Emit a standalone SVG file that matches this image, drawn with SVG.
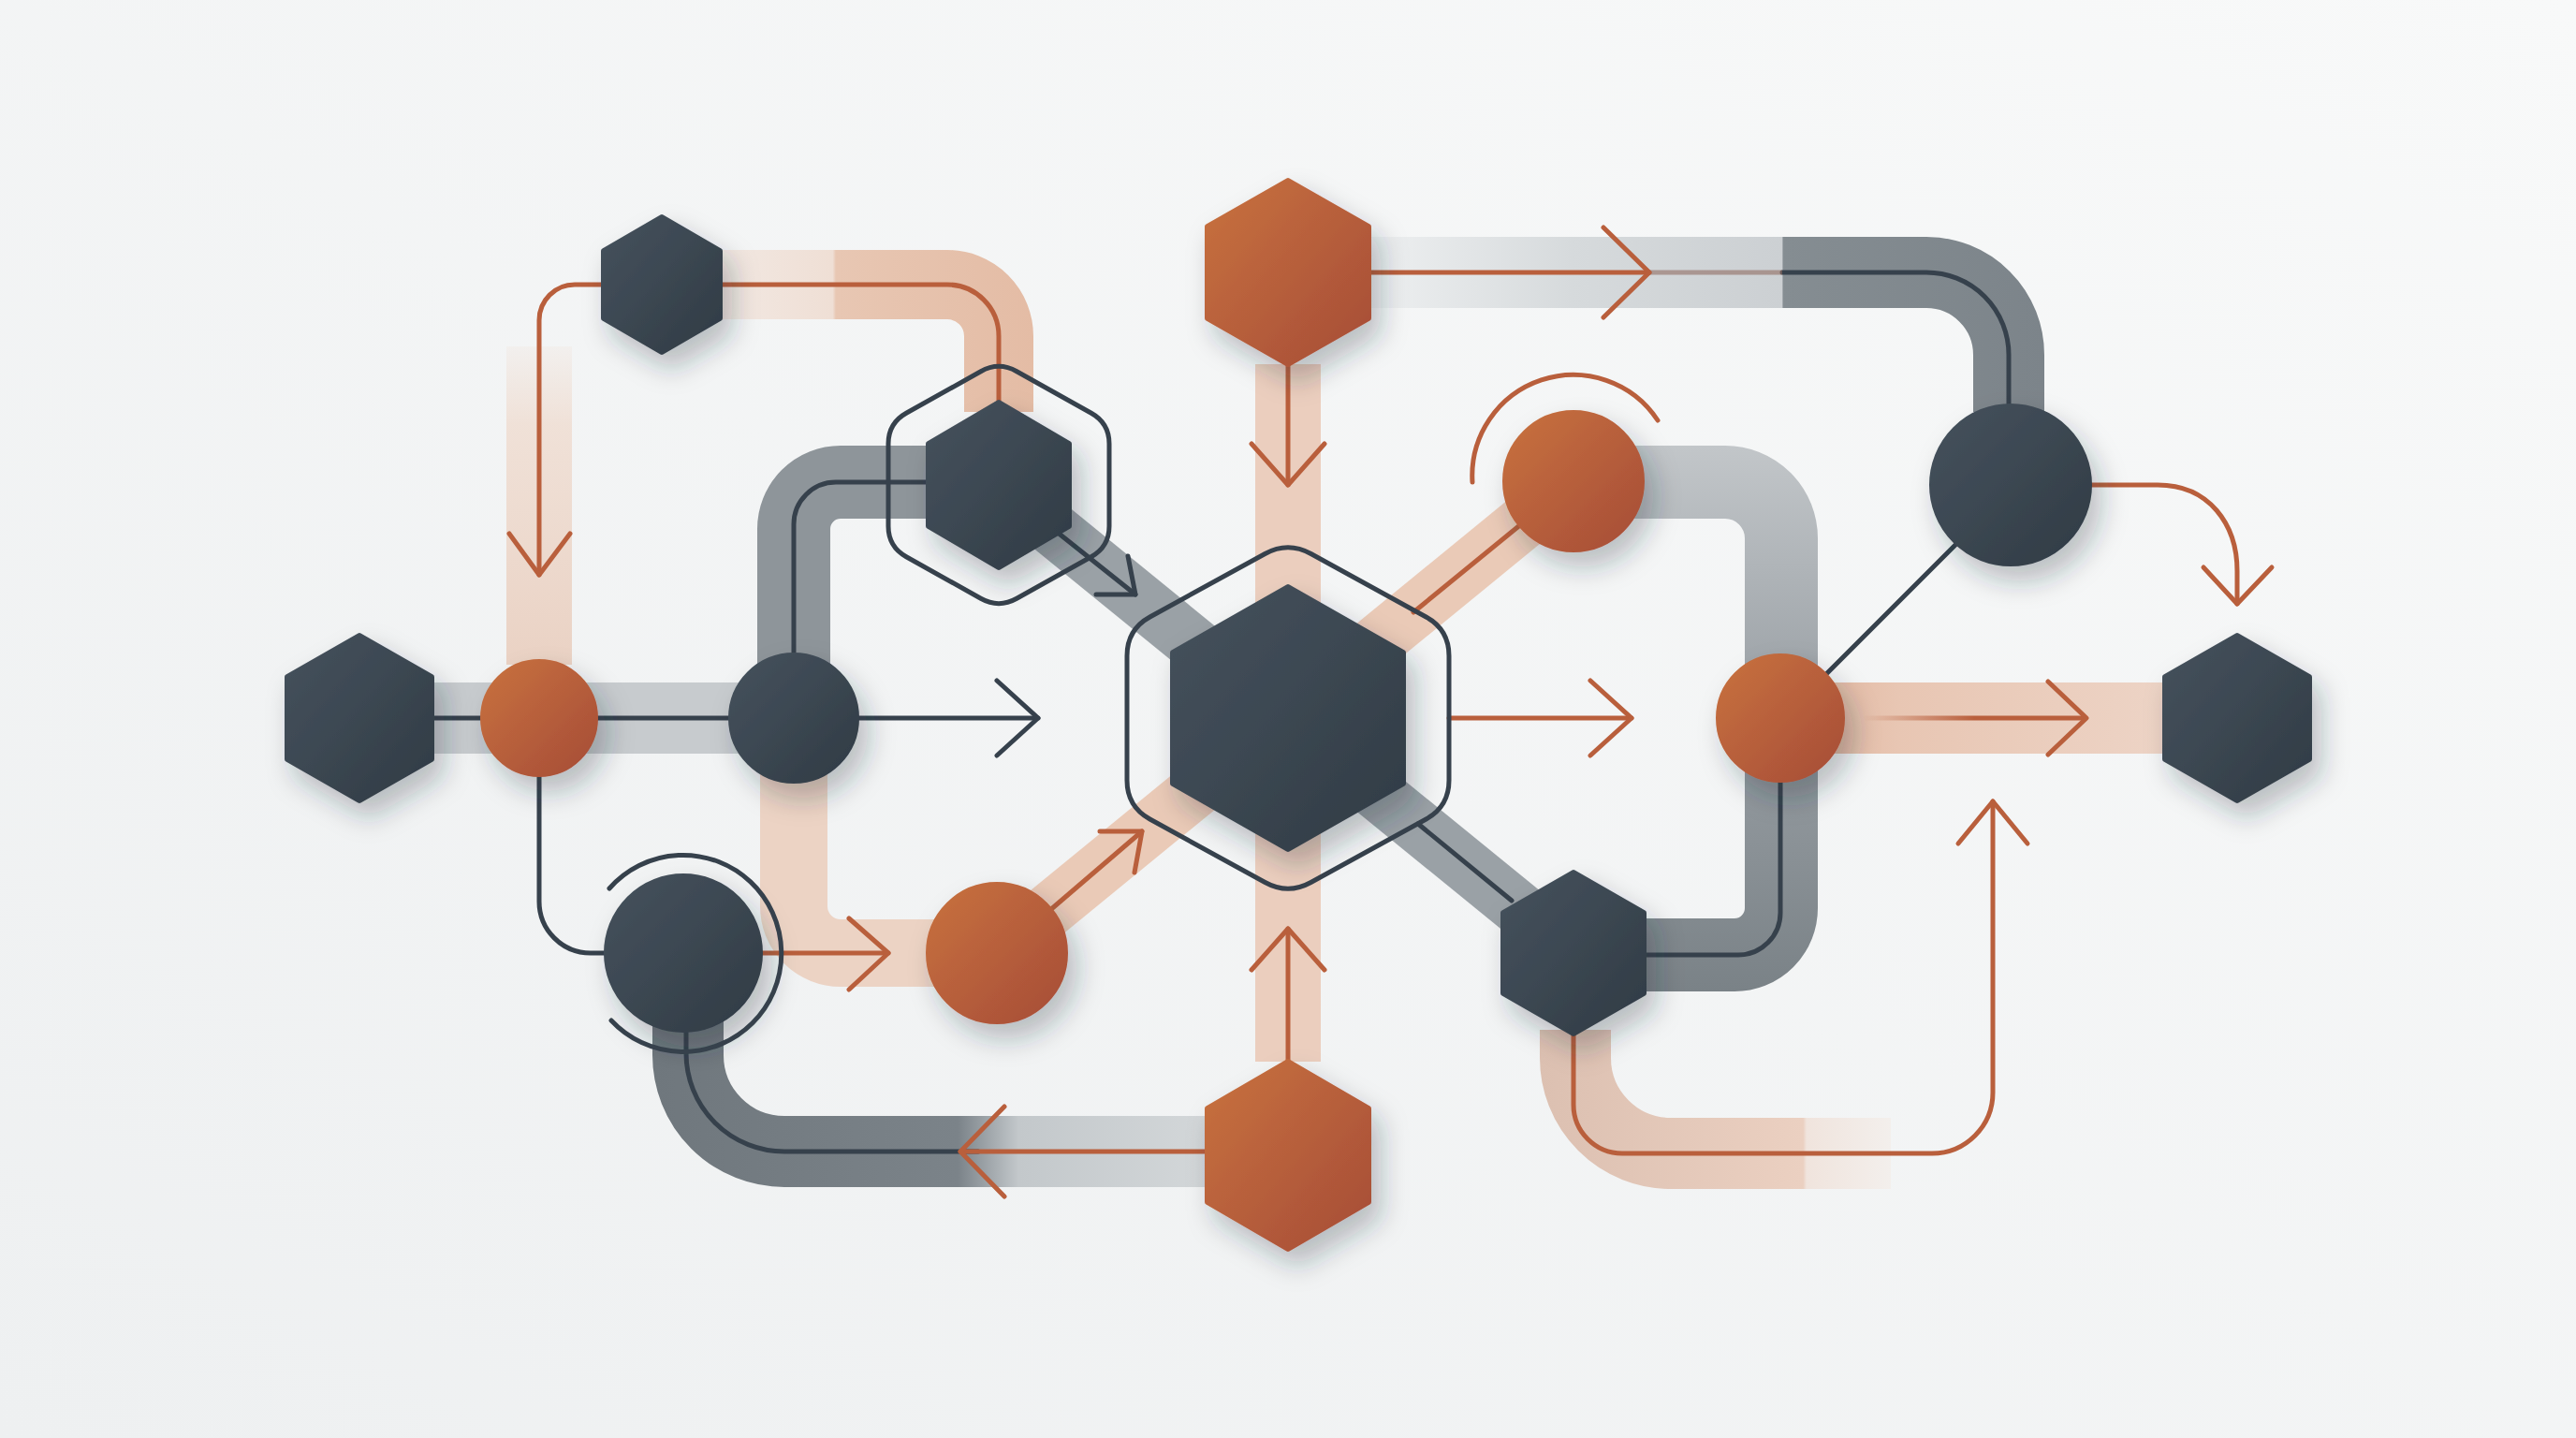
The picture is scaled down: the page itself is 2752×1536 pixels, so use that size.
<svg xmlns="http://www.w3.org/2000/svg" width="2752" height="1536" viewBox="0 0 2752 1536">
<defs>
<linearGradient id="bg" x1="1" y1="0" x2="0" y2="1"><stop offset="0" stop-color="#f8f9f9"/><stop offset="1" stop-color="#eef0f1"/></linearGradient>
<linearGradient id="gDark" x1="0" y1="0" x2="1" y2="1"><stop offset="0" stop-color="#46525d"/><stop offset="1" stop-color="#303b45"/></linearGradient>
<linearGradient id="gOr" x1="0" y1="0" x2="1" y2="1"><stop offset="0" stop-color="#c8723f"/><stop offset="1" stop-color="#a64c37"/></linearGradient>
<linearGradient id="bandD" gradientUnits="userSpaceOnUse" x1="0" y1="370" x2="0" y2="707"><stop offset="0" stop-color="#efdcd0" stop-opacity="0.2"/><stop offset="0.25" stop-color="#efdcd0" stop-opacity="0.8"/><stop offset="1" stop-color="#ead2c4"/></linearGradient>
<linearGradient id="bandE" gradientUnits="userSpaceOnUse" x1="769" y1="0" x2="1104" y2="0"><stop offset="0" stop-color="#f2e8e2"/><stop offset="0.36" stop-color="#efdfd5"/><stop offset="0.37" stop-color="#e8c7b3"/><stop offset="1" stop-color="#e4bca5"/></linearGradient>
<linearGradient id="bandI" gradientUnits="userSpaceOnUse" x1="0" y1="477" x2="0" y2="1058"><stop offset="0" stop-color="#c2c6c9"/><stop offset="0.45" stop-color="#9ca2a7"/><stop offset="1" stop-color="#7a8287"/></linearGradient>
<linearGradient id="bandJ" gradientUnits="userSpaceOnUse" x1="1462" y1="0" x2="2186" y2="0"><stop offset="0" stop-color="#eef0f1"/><stop offset="0.3" stop-color="#d6dadc"/><stop offset="0.61" stop-color="#ccd0d3"/><stop offset="0.612" stop-color="#858d92"/><stop offset="1" stop-color="#7c848a"/></linearGradient>
<linearGradient id="bandK" gradientUnits="userSpaceOnUse" x1="1902" y1="0" x2="2320" y2="0"><stop offset="0" stop-color="#e0b29a"/><stop offset="0.3" stop-color="#e8c6b3"/><stop offset="1" stop-color="#edd4c6"/></linearGradient>
<linearGradient id="bandL" gradientUnits="userSpaceOnUse" x1="1645" y1="0" x2="2020" y2="0"><stop offset="0" stop-color="#dcc0b1"/><stop offset="0.75" stop-color="#ebd0c1"/><stop offset="0.76" stop-color="#f0e4dd"/><stop offset="1" stop-color="#f3efec"/></linearGradient>
<linearGradient id="bandM" gradientUnits="userSpaceOnUse" x1="697" y1="0" x2="1290" y2="0"><stop offset="0" stop-color="#6f777d"/><stop offset="0.55" stop-color="#7b8389"/><stop offset="0.66" stop-color="#c3c8cb"/><stop offset="1" stop-color="#d3d7d9"/></linearGradient>
<linearGradient id="lineK" gradientUnits="userSpaceOnUse" x1="1990" y1="0" x2="2229" y2="0"><stop offset="0" stop-color="#b95f3c" stop-opacity="0"/><stop offset="0.5" stop-color="#b95f3c" stop-opacity="1"/><stop offset="1" stop-color="#b95f3c"/></linearGradient>
<filter id="sh" x="-60%" y="-60%" width="220%" height="220%"><feDropShadow dx="10" dy="16" stdDeviation="14" flood-color="#1e2a35" flood-opacity="0.28"/></filter>
<style>
.band{fill:none;stroke-linecap:butt;stroke-linejoin:round}
.dl{fill:none;stroke:#36414c;stroke-width:5;stroke-linecap:round;stroke-linejoin:round}
.ol{fill:none;stroke:#b95f3c;stroke-width:5;stroke-linecap:round;stroke-linejoin:round}
.dk{fill:url(#gDark);stroke:url(#gDark);stroke-width:6;stroke-linejoin:round;filter:url(#sh)}
.or{fill:url(#gOr);stroke:url(#gOr);stroke-width:6;stroke-linejoin:round;filter:url(#sh)}
.out{fill:none;stroke:#36414c;stroke-width:5}
</style>
</defs>
<rect x="0" y="0" width="2752" height="1536" fill="url(#bg)"/>
<g id="connectors">
  <path class="band" d="M 461 767 H 848" stroke="#c7cbce" stroke-width="76"/>
  <path class="band" d="M 576 370 V 710" stroke="url(#bandD)" stroke-width="70"/>
  <path class="band" d="M 769 304 H 1012 A 55 55 0 0 1 1067 359 V 440" stroke="url(#bandE)" stroke-width="74"/>
  <path class="band" d="M 848 800 V 968 A 50 50 0 0 0 898 1018 H 1000" stroke="#ecd3c4" stroke-width="72"/>
  <path class="band" d="M 848 767 V 565 A 50 50 0 0 1 898 515 H 1000" stroke="#8e959a" stroke-width="78"/>
  <path class="band" d="M 735 1090 V 1127 A 103 103 0 0 0 838 1230 H 1290" stroke="url(#bandM)" stroke-width="76"/>
  <path class="band" d="M 1376 389 V 1134" stroke="#ebcebe" stroke-width="70"/>
  <path class="band" d="M 1067 518 L 1681 1018" stroke="#9aa1a6" stroke-width="58"/>
  <path class="band" d="M 1065 1018 L 1681 514" stroke="#eacab7" stroke-width="58"/>
  <path class="band" d="M 1681 515 H 1843 A 60 60 0 0 1 1903 575 V 970 A 50 50 0 0 1 1853 1020 H 1700" stroke="url(#bandI)" stroke-width="78"/>
  <path class="band" d="M 1462 291 H 2058 A 88 88 0 0 1 2146 379 V 440" stroke="url(#bandJ)" stroke-width="76"/>
  <path class="band" d="M 1902 767 H 2320" stroke="url(#bandK)" stroke-width="76"/>
  <path class="band" d="M 1683 1100 V 1130 A 102 102 0 0 0 1785 1232 H 2020" stroke="url(#bandL)" stroke-width="76"/>
  <path class="dl" d="M 461 767 H 848"/>
  <path class="dl" d="M 915 767 H 1109"/>
  <polyline class="dl" points="1065,727 1109,767 1065,807"/>
  <path class="dl" d="M 848 700 V 560 A 45 45 0 0 1 893 515 H 992"/>
  <path class="dl" d="M 576 827 V 963 A 55 55 0 0 0 631 1018 H 650"/>
  <path class="dl" d="M 733 1100 V 1125 A 105 105 0 0 0 838 1230 H 1045"/>
  <path class="dl" d="M 1115 557 L 1213 635"/>
  <polyline class="dl" points="1171,635 1213,635 1205,594"/>
  <path class="dl" d="M 1515 880 L 1615 962"/>
  <path class="dl" d="M 1904 291 H 2058 A 88 88 0 0 1 2146 379 V 436"/>
  <path class="dl" d="M 2092 579 L 1951 720"/>
  <path class="dl" d="M 1902 833 V 975 A 45 45 0 0 1 1857 1020 H 1756"/>
  <path class="ol" d="M 645 304 H 614 A 38 38 0 0 0 576 342 V 614"/>
  <polyline class="ol" points="544,570 576,614 609,570"/>
  <path class="ol" d="M 769 304 H 1012 A 55 55 0 0 1 1067 359 V 430"/>
  <path class="ol" d="M 1376 389 V 518"/>
  <polyline class="ol" points="1337,474 1376,518 1415,474"/>
  <path class="ol" d="M 1376 1134 V 992"/>
  <polyline class="ol" points="1337,1036 1376,992 1415,1036"/>
  <path class="ol" d="M 1548 767 H 1743"/>
  <polyline class="ol" points="1699,727 1743,767 1699,807"/>
  <path class="ol" d="M 1462 291 H 1762"/>
  <path d="M 1762 291 H 1904" stroke="#8f6d62" stroke-width="5" opacity="0.6" fill="none"/>
  <polyline class="ol" points="1713,243 1762,291 1713,339"/>
  <path class="ol" d="M 2232 518 H 2305 C 2360 518 2390 560 2390 610 V 645"/>
  <polyline class="ol" points="2354,606 2390,645 2427,606"/>
  <path d="M 1990 767 H 2229" stroke="url(#lineK)" stroke-width="5" fill="none"/>
  <polyline class="ol" points="2188,728 2229,767 2188,806"/>
  <path class="ol" d="M 1510 654 L 1625 560"/>
  <path class="ol" d="M 1122 972 L 1220 888"/>
  <polyline class="ol" points="1175,888 1220,888 1212,932"/>
  <path class="ol" d="M 812 1018 H 949"/>
  <polyline class="ol" points="907,981 949,1018 907,1057"/>
  <path class="ol" d="M 1290 1230 H 1026"/>
  <polyline class="ol" points="1073,1182 1026,1230 1073,1278"/>
  <path class="ol" d="M 1681 1104 V 1180 A 52 52 0 0 0 1733 1232 H 2064 A 65 65 0 0 0 2129 1167 V 856"/>
  <polyline class="ol" points="2092,901 2129,856 2166,901"/>
  <path class="ol" d="M 1573 515 A 108 108 0 0 1 1771 449"/>
</g>
<g id="node-hex-left"><polygon class="dk" points="384,679 461,723 461,811 384,855 307,811 307,723"/></g>
<g id="node-circle-orange-left"><circle class="or" cx="576" cy="767" r="60"/></g>
<g id="node-circle-dark-left"><circle class="dk" cx="848" cy="767" r="67"/></g>
<g id="node-hex-topleft"><polygon class="dk" points="707,232 769,268 769,340 707,376 645,340 645,268"/></g>
<g id="node-hex-mid">
  <path class="out" d="M 1047.8 396.7 Q 1067 386 1086.2 396.7 L 1165.8 441.3 Q 1185 452 1185 474 L 1185 562 Q 1185 584 1165.8 594.7 L 1086.2 639.3 Q 1067 650 1047.8 639.3 L 968.2 594.7 Q 949 584 949 562 L 949 474 Q 949 452 968.2 441.3 Z"/>
  <polygon class="dk" points="1067,430 1142,474 1142,562 1067,606 992,562 992,474"/>
</g>
<g id="node-hex-center">
  <path class="out" d="M 1351.5 591.5 Q 1376 578 1400.5 591.5 L 1523.5 659 Q 1548 672.5 1548 700.5 L 1548 833.5 Q 1548 861.5 1523.5 875 L 1400.5 942.5 Q 1376 956 1351.5 942.5 L 1228.5 875 Q 1204 861.5 1204 833.5 L 1204 700.5 Q 1204 672.5 1228.5 659 Z"/>
  <polygon class="dk" points="1376,627 1499,697 1499,837 1376,907 1253,837 1253,697"/>
</g>
<g id="node-hex-top"><polygon class="or" points="1376,193 1462,242 1462,340 1376,389 1290,340 1290,242"/></g>
<g id="node-hex-bottom"><polygon class="or" points="1376,1134 1462,1184 1462,1284 1376,1334 1290,1284 1290,1184"/></g>
<g id="node-circle-orange-ur"><circle class="or" cx="1681" cy="514" r="73"/></g>
<g id="node-circle-dark-right"><circle class="dk" cx="2148" cy="518" r="84"/></g>
<g id="node-circle-orange-right"><circle class="or" cx="1902" cy="767" r="66"/></g>
<g id="node-hex-right"><polygon class="dk" points="2390,679 2467,723 2467,811 2390,855 2313,811 2313,723"/></g>
<g id="node-circle-orange-ll"><circle class="or" cx="1065" cy="1018" r="73"/></g>
<g id="node-circle-dark-ll">
  <circle class="dk" cx="730" cy="1018" r="82"/>
  <path class="dl" d="M 651 949 A 105 105 0 1 1 653 1090"/>
</g>
<g id="node-hex-lr"><polygon class="dk" points="1681,932 1756,975 1756,1061 1681,1104 1606,1061 1606,975"/></g>
</svg>
